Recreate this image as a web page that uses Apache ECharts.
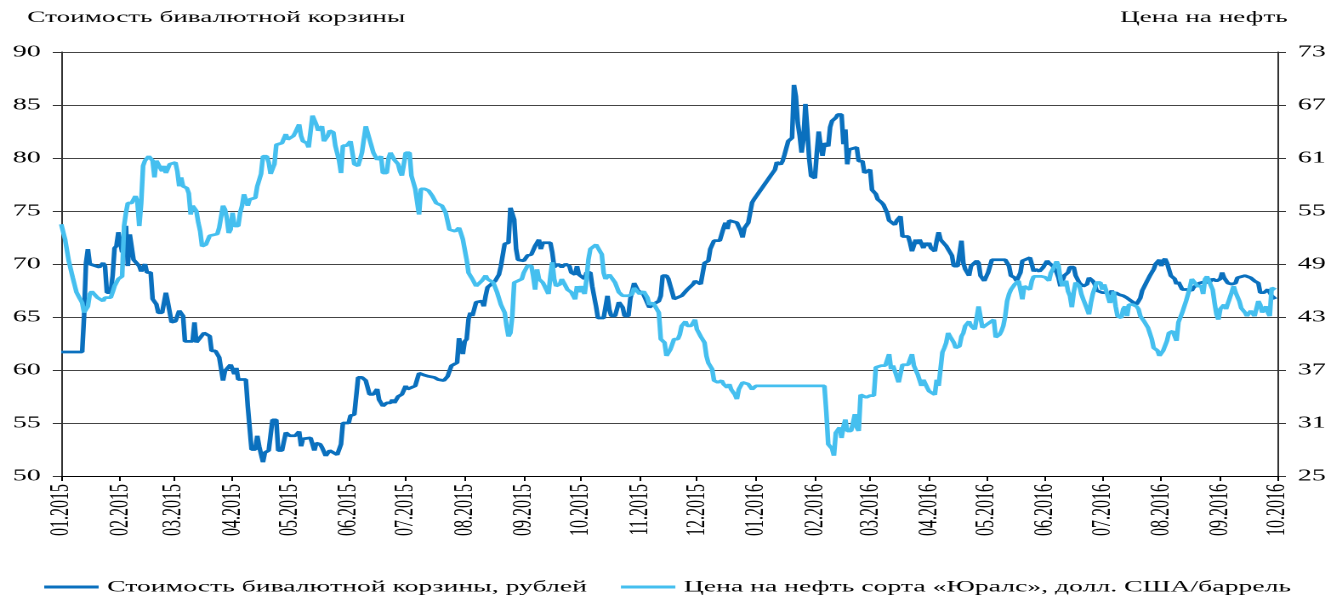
<!doctype html>
<html>
<head>
<meta charset="utf-8">
<title>Стоимость бивалютной корзины и цена на нефть</title>
<style>
    html, body { margin: 0; padding: 0; background: #fff; overflow: hidden; }
    /* the reference picture is stretched horizontally, so is the chart */
    #main { width: 789px; height: 599px; transform: scaleX(1.7009); transform-origin: 0 0; }
</style>
</head>
<body>
<div id="main"></div>
<script src="https://cdn.jsdelivr.net/npm/echarts@6/dist/echarts.min.js"></script>
<script>
var basketName = 'Стоимость бивалютной корзины, рублей';
var oilName = 'Цена на нефть сорта «Юралс», долл. США/баррель';

var basketDates = [
    '2015-01-01','2015-01-12','2015-01-13','2015-01-14','2015-01-15','2015-01-16','2015-01-21','2015-01-23','2015-01-24','2015-01-25',
    '2015-01-27','2015-01-28','2015-01-29','2015-01-30','2015-01-31','2015-02-01','2015-02-02','2015-02-04','2015-02-05','2015-02-06',
    '2015-02-08','2015-02-11','2015-02-12','2015-02-14','2015-02-15','2015-02-17','2015-02-18','2015-02-20','2015-02-21','2015-02-23',
    '2015-02-25','2015-02-26','2015-02-28','2015-03-02','2015-03-04','2015-03-06','2015-03-07','2015-03-11','2015-03-12','2015-03-13',
    '2015-03-17','2015-03-20','2015-03-21','2015-03-23','2015-03-25','2015-03-27','2015-03-28','2015-03-31','2015-04-02','2015-04-03',
    '2015-04-04','2015-04-08','2015-04-09','2015-04-11','2015-04-13','2015-04-14','2015-04-15','2015-04-17','2015-04-18','2015-04-20',
    '2015-04-22','2015-04-24','2015-04-25','2015-04-27','2015-04-29','2015-05-01','2015-05-04','2015-05-06','2015-05-07','2015-05-08',
    '2015-05-12','2015-05-13','2015-05-14','2015-05-15','2015-05-17','2015-05-18','2015-05-20','2015-05-22','2015-05-24','2015-05-26',
    '2015-05-28','2015-05-29','2015-06-01','2015-06-02','2015-06-04','2015-06-06','2015-06-08','2015-06-10','2015-06-12','2015-06-14',
    '2015-06-16','2015-06-17','2015-06-19','2015-06-21','2015-06-23','2015-06-24','2015-06-25','2015-06-27','2015-06-29','2015-07-01',
    '2015-07-02','2015-07-06','2015-07-08','2015-07-11','2015-07-13','2015-07-16','2015-07-18','2015-07-21','2015-07-23','2015-07-25',
    '2015-07-28','2015-07-29','2015-07-30','2015-07-31','2015-08-01','2015-08-02','2015-08-03','2015-08-04','2015-08-05','2015-08-07',
    '2015-08-10','2015-08-11','2015-08-12','2015-08-13','2015-08-15','2015-08-17','2015-08-19','2015-08-20','2015-08-22','2015-08-24',
    '2015-08-25','2015-08-27','2015-08-28','2015-08-29','2015-09-01','2015-09-03','2015-09-05','2015-09-07','2015-09-09','2015-09-10',
    '2015-09-11','2015-09-15','2015-09-16','2015-09-17','2015-09-19','2015-09-21','2015-09-23','2015-09-25','2015-09-26','2015-09-28',
    '2015-09-29','2015-09-30','2015-10-03','2015-10-04','2015-10-06','2015-10-07','2015-10-09','2015-10-10','2015-10-13','2015-10-15',
    '2015-10-16','2015-10-17','2015-10-19','2015-10-21','2015-10-23','2015-10-24','2015-10-26','2015-10-27','2015-10-29','2015-10-31',
    '2015-11-03','2015-11-06','2015-11-08','2015-11-11','2015-11-12','2015-11-13','2015-11-15','2015-11-16','2015-11-19','2015-11-23',
    '2015-11-26','2015-11-29','2015-11-30','2015-12-03','2015-12-05','2015-12-07','2015-12-08','2015-12-10','2015-12-13','2015-12-15',
    '2015-12-16','2015-12-17','2015-12-18','2015-12-22','2015-12-24','2015-12-25','2015-12-26','2015-12-28','2015-12-30','2015-12-31',
    '2016-01-11','2016-01-12','2016-01-14','2016-01-15','2016-01-16','2016-01-18','2016-01-20','2016-01-21','2016-01-22','2016-01-23',
    '2016-01-24','2016-01-25','2016-01-26','2016-01-27','2016-01-28','2016-01-29','2016-01-30','2016-02-01','2016-02-02','2016-02-03',
    '2016-02-04','2016-02-05','2016-02-06','2016-02-08','2016-02-09','2016-02-10','2016-02-12','2016-02-13','2016-02-15','2016-02-16',
    '2016-02-17','2016-02-18','2016-02-19','2016-02-20','2016-02-23','2016-02-24','2016-02-26','2016-02-27','2016-02-28','2016-03-01',
    '2016-03-02','2016-03-04','2016-03-05','2016-03-07','2016-03-08','2016-03-09','2016-03-10','2016-03-11','2016-03-14','2016-03-15',
    '2016-03-17','2016-03-18','2016-03-21','2016-03-22','2016-03-23','2016-03-25','2016-03-26','2016-03-27','2016-03-29','2016-03-30',
    '2016-03-31','2016-04-01','2016-04-02','2016-04-04','2016-04-05','2016-04-06','2016-04-07','2016-04-10','2016-04-11','2016-04-13',
    '2016-04-14','2016-04-16','2016-04-18','2016-04-19','2016-04-20','2016-04-22','2016-04-23','2016-04-26','2016-04-27','2016-04-28',
    '2016-04-29','2016-04-30','2016-05-02','2016-05-04','2016-05-11','2016-05-13','2016-05-14','2016-05-16','2016-05-17','2016-05-19',
    '2016-05-20','2016-05-21','2016-05-24','2016-05-26','2016-05-27','2016-05-29','2016-05-31','2016-06-02','2016-06-03','2016-06-05',
    '2016-06-07','2016-06-08','2016-06-09','2016-06-10','2016-06-11','2016-06-13','2016-06-14','2016-06-16','2016-06-17','2016-06-19',
    '2016-06-21','2016-06-23','2016-06-24','2016-06-26','2016-06-27','2016-06-28','2016-07-01','2016-07-03','2016-07-05','2016-07-06',
    '2016-07-07','2016-07-08','2016-07-10','2016-07-12','2016-07-14','2016-07-15','2016-07-17','2016-07-19','2016-07-21','2016-07-22',
    '2016-07-24','2016-07-26','2016-07-28','2016-07-29','2016-07-31','2016-08-01','2016-08-02','2016-08-03','2016-08-04','2016-08-05',
    '2016-08-06','2016-08-08','2016-08-09','2016-08-10','2016-08-12','2016-08-15','2016-08-17','2016-08-18','2016-08-19','2016-08-21',
    '2016-08-25','2016-08-26','2016-08-28','2016-08-30','2016-09-01','2016-09-02','2016-09-03','2016-09-05','2016-09-07','2016-09-09',
    '2016-09-10','2016-09-14','2016-09-17','2016-09-19','2016-09-21','2016-09-22','2016-09-24','2016-09-26','2016-09-28','2016-09-30'
];
var basketValues = [
    61.7, 61.7, 65.1, 70.1, 71.4, 70.0, 69.7, 70.1, 69.8, 67.3,
    67.3, 68.9, 71.5, 71.7, 73.0, 73.1, 71.1, 73.6, 69.8, 72.8,
    70.4, 69.8, 69.3, 70.0, 69.2, 69.2, 66.7, 66.2, 65.4, 65.4,
    67.3, 66.4, 64.5, 64.6, 65.6, 65.1, 62.7, 62.7, 64.5, 62.6,
    63.5, 63.2, 61.8, 61.8, 61.2, 59.0, 59.9, 60.5, 59.6, 60.2,
    59.1, 59.1, 56.6, 52.5, 52.5, 53.8, 52.8, 51.3, 52.2, 52.4,
    55.3, 55.3, 52.4, 52.4, 54.1, 53.8, 53.8, 54.2, 52.8, 53.5,
    53.6, 53.5, 52.4, 53.1, 53.0, 52.7, 51.9, 52.4, 52.2, 52.0,
    53.0, 55.0, 55.0, 55.7, 55.8, 59.3, 59.3, 59.0, 57.7, 57.7,
    58.2, 57.2, 56.6, 56.9, 56.9, 57.2, 56.9, 57.5, 57.7, 58.5,
    58.2, 58.5, 59.7, 59.5, 59.4, 59.3, 59.1, 59.0, 59.4, 60.4,
    60.7, 63.0, 62.9, 61.5, 62.7, 62.9, 64.8, 65.4, 65.1, 66.4,
    66.5, 66.0, 67.0, 67.8, 68.1, 68.4, 69.0, 69.8, 71.9, 72.0,
    75.3, 74.2, 71.4, 70.4, 70.3, 70.8, 70.9, 71.7, 72.3, 71.4,
    72.0, 72.0, 71.1, 69.7, 70.0, 69.7, 70.0, 69.8, 69.2, 69.0,
    69.8, 69.0, 68.6, 69.2, 69.2, 67.9, 66.0, 64.9, 64.9, 67.0,
    65.7, 65.1, 65.1, 66.4, 65.9, 65.1, 65.1, 66.7, 68.2, 67.5,
    67.1, 65.9, 66.2, 66.5, 67.0, 68.9, 68.9, 68.6, 66.7, 67.0,
    67.6, 68.1, 68.4, 68.1, 70.1, 70.3, 71.4, 72.2, 72.2, 73.4,
    73.9, 73.3, 74.1, 73.9, 73.1, 72.5, 73.4, 73.9, 75.8, 76.1,
    78.9, 79.6, 79.4, 79.7, 80.3, 81.6, 81.9, 86.9, 85.8, 83.3,
    82.1, 80.5, 81.8, 85.1, 82.7, 79.9, 78.3, 78.1, 80.5, 82.5,
    81.1, 80.2, 81.4, 81.1, 82.9, 83.5, 83.8, 84.1, 84.1, 81.3,
    82.7, 79.4, 80.8, 80.9, 81.0, 79.7, 79.7, 78.6, 78.6, 78.9,
    77.0, 76.6, 76.1, 75.8, 75.6, 75.5, 74.8, 74.1, 73.7, 74.1,
    74.5, 72.6, 72.6, 72.0, 71.2, 72.3, 71.9, 72.3, 71.5, 72.0,
    71.7, 72.0, 71.5, 71.2, 72.2, 73.0, 72.3, 71.7, 71.4, 70.8,
    69.8, 69.8, 72.2, 70.1, 69.5, 68.9, 69.8, 70.3, 70.1, 68.9,
    69.0, 68.4, 69.2, 70.4, 70.4, 69.8, 68.9, 68.7, 68.4, 69.2,
    70.3, 70.4, 70.6, 69.3, 69.5, 69.3, 69.7, 70.3, 70.1, 69.8,
    69.2, 68.7, 67.9, 67.8, 68.9, 69.2, 69.7, 69.7, 68.9, 68.2,
    67.9, 68.1, 68.7, 68.4, 68.1, 67.5, 67.3, 67.3, 67.1, 67.5,
    67.0, 67.3, 67.1, 67.0, 66.8, 66.7, 66.4, 66.2, 66.8, 67.5,
    68.2, 68.9, 69.5, 70.0, 70.4, 69.8, 70.3, 70.5, 70.1, 69.5,
    68.9, 68.6, 68.1, 68.3, 67.6, 67.6, 67.5, 67.8, 67.9, 68.2,
    68.4, 68.2, 68.6, 68.4, 68.6, 69.2, 68.7, 68.2, 68.1, 68.2,
    68.7, 68.9, 68.7, 68.4, 68.2, 67.3, 67.3, 67.6, 67.0, 66.7
];

var oilDates = [
    '2015-01-01','2015-01-02','2015-01-03','2015-01-05','2015-01-06','2015-01-07','2015-01-08','2015-01-09','2015-01-10','2015-01-11',
    '2015-01-12','2015-01-13','2015-01-14','2015-01-15','2015-01-16','2015-01-17','2015-01-20','2015-01-23','2015-01-24','2015-01-25',
    '2015-01-27','2015-01-28','2015-01-29','2015-01-31','2015-02-02','2015-02-03','2015-02-04','2015-02-05','2015-02-07','2015-02-09',
    '2015-02-10','2015-02-11','2015-02-12','2015-02-13','2015-02-14','2015-02-16','2015-02-18','2015-02-19','2015-02-20','2015-02-21',
    '2015-02-23','2015-02-24','2015-02-25','2015-02-27','2015-03-02','2015-03-03','2015-03-04','2015-03-05','2015-03-06','2015-03-08',
    '2015-03-09','2015-03-10','2015-03-11','2015-03-13','2015-03-14','2015-03-15','2015-03-16','2015-03-18','2015-03-20','2015-03-24',
    '2015-03-25','2015-03-27','2015-03-28','2015-03-29','2015-03-30','2015-03-31','2015-04-01','2015-04-02','2015-04-04','2015-04-05',
    '2015-04-06','2015-04-07','2015-04-09','2015-04-10','2015-04-13','2015-04-14','2015-04-16','2015-04-17','2015-04-19','2015-04-20',
    '2015-04-21','2015-04-23','2015-04-24','2015-04-27','2015-04-28','2015-04-29','2015-04-30','2015-05-01','2015-05-03','2015-05-04',
    '2015-05-06','2015-05-07','2015-05-08','2015-05-10','2015-05-11','2015-05-13','2015-05-15','2015-05-16','2015-05-18','2015-05-19',
    '2015-05-21','2015-05-22','2015-05-24','2015-05-25','2015-05-27','2015-05-28','2015-05-29','2015-05-31','2015-06-02','2015-06-04',
    '2015-06-06','2015-06-08','2015-06-10','2015-06-12','2015-06-14','2015-06-16','2015-06-18','2015-06-19','2015-06-21','2015-06-22',
    '2015-06-23','2015-06-25','2015-06-27','2015-06-28','2015-06-29','2015-07-01','2015-07-03','2015-07-04','2015-07-06','2015-07-08',
    '2015-07-09','2015-07-11','2015-07-13','2015-07-15','2015-07-17','2015-07-18','2015-07-20','2015-07-22','2015-07-24','2015-07-27',
    '2015-07-29','2015-07-30','2015-07-31','2015-08-02','2015-08-03','2015-08-05','2015-08-07','2015-08-08','2015-08-10','2015-08-12',
    '2015-08-13','2015-08-16','2015-08-18','2015-08-20','2015-08-22','2015-08-23','2015-08-24','2015-08-25','2015-08-26','2015-08-27',
    '2015-08-29','2015-08-31','2015-09-01','2015-09-03','2015-09-05','2015-09-06','2015-09-07','2015-09-08','2015-09-09','2015-09-11',
    '2015-09-12','2015-09-14','2015-09-15','2015-09-16','2015-09-17','2015-09-18','2015-09-20','2015-09-21','2015-09-23','2015-09-24',
    '2015-09-26','2015-09-27','2015-09-28','2015-09-29','2015-09-30','2015-10-01','2015-10-03','2015-10-04','2015-10-05','2015-10-06',
    '2015-10-09','2015-10-10','2015-10-12','2015-10-13','2015-10-14','2015-10-16','2015-10-17','2015-10-19','2015-10-21','2015-10-23',
    '2015-10-26','2015-10-28','2015-10-29','2015-10-30','2015-11-01','2015-11-03','2015-11-05','2015-11-06','2015-11-08','2015-11-09',
    '2015-11-11','2015-11-12','2015-11-14','2015-11-15','2015-11-17','2015-11-19','2015-11-21','2015-11-22','2015-11-23','2015-11-25',
    '2015-11-26','2015-11-28','2015-11-30','2015-12-01','2015-12-03','2015-12-05','2015-12-06','2015-12-07','2015-12-09','2015-12-10',
    '2015-12-12','2015-12-14','2015-12-15','2015-12-17','2015-12-18','2015-12-19','2015-12-21','2015-12-22','2015-12-23','2015-12-25',
    '2015-12-26','2015-12-28','2015-12-30','2015-12-31','2016-01-01','2016-02-06','2016-02-07','2016-02-08','2016-02-10','2016-02-11',
    '2016-02-12','2016-02-13','2016-02-14','2016-02-15','2016-02-16','2016-02-17','2016-02-18','2016-02-20','2016-02-21','2016-02-22',
    '2016-02-23','2016-02-24','2016-02-25','2016-02-26','2016-02-28','2016-03-01','2016-03-03','2016-03-04','2016-03-07','2016-03-09',
    '2016-03-11','2016-03-12','2016-03-13','2016-03-14','2016-03-16','2016-03-18','2016-03-21','2016-03-23','2016-03-24','2016-03-26',
    '2016-03-28','2016-03-29','2016-03-31','2016-04-01','2016-04-04','2016-04-05','2016-04-06','2016-04-08','2016-04-09','2016-04-10',
    '2016-04-11','2016-04-12','2016-04-14','2016-04-15','2016-04-17','2016-04-18','2016-04-19','2016-04-20','2016-04-22','2016-04-23',
    '2016-04-25','2016-04-26','2016-04-27','2016-04-28','2016-04-29','2016-05-03','2016-05-05','2016-05-06','2016-05-08','2016-05-09',
    '2016-05-10','2016-05-11','2016-05-12','2016-05-13','2016-05-14','2016-05-16','2016-05-18','2016-05-19','2016-05-20','2016-05-21',
    '2016-05-24','2016-05-25','2016-05-26','2016-05-30','2016-06-01','2016-06-03','2016-06-04','2016-06-06','2016-06-07','2016-06-08',
    '2016-06-09','2016-06-10','2016-06-12','2016-06-13','2016-06-14','2016-06-15','2016-06-16','2016-06-17','2016-06-19','2016-06-20',
    '2016-06-21','2016-06-23','2016-06-24','2016-06-25','2016-06-26','2016-06-28','2016-06-30','2016-07-01','2016-07-02','2016-07-03',
    '2016-07-05','2016-07-06','2016-07-07','2016-07-08','2016-07-09','2016-07-11','2016-07-12','2016-07-13','2016-07-14','2016-07-15',
    '2016-07-17','2016-07-19','2016-07-20','2016-07-21','2016-07-23','2016-07-25','2016-07-27','2016-07-28','2016-07-30','2016-07-31',
    '2016-08-02','2016-08-04','2016-08-05','2016-08-07','2016-08-09','2016-08-10','2016-08-12','2016-08-14','2016-08-16','2016-08-17',
    '2016-08-18','2016-08-20','2016-08-21','2016-08-22','2016-08-23','2016-08-24','2016-08-25','2016-08-26','2016-08-28','2016-08-29',
    '2016-08-30','2016-08-31','2016-09-01','2016-09-03','2016-09-04','2016-09-05','2016-09-07','2016-09-08','2016-09-09','2016-09-11',
    '2016-09-12','2016-09-14','2016-09-15','2016-09-17','2016-09-18','2016-09-19','2016-09-21','2016-09-22','2016-09-23','2016-09-25',
    '2016-09-26','2016-09-27','2016-09-28','2016-09-29','2016-09-30'
];
var oilValues = [
    53.5, 53.5, 51.8, 49.3, 48.4, 47.5, 47.3, 45.8, 45.4, 45.0,
    44.6, 43.5, 43.3, 44.2, 45.6, 45.9, 45.2, 44.8, 45.2, 45.4,
    45.2, 45.8, 46.5, 47.3, 47.6, 53.3, 54.8, 55.9, 55.9, 56.7,
    56.1, 53.3, 55.9, 60.1, 60.7, 61.2, 60.7, 58.8, 60.7, 60.5,
    59.5, 60.1, 59.3, 60.3, 60.5, 59.5, 57.8, 58.8, 57.8, 57.6,
    57.0, 54.6, 55.6, 55.0, 53.7, 52.7, 51.0, 51.2, 52.2, 52.4,
    53.1, 55.6, 55.2, 54.2, 52.5, 52.9, 54.8, 53.3, 53.3, 54.8,
    55.6, 56.9, 55.6, 56.3, 56.5, 57.8, 59.2, 61.2, 61.2, 60.5,
    59.2, 60.3, 62.5, 62.7, 62.5, 63.7, 63.1, 63.3, 63.5, 63.9,
    64.8, 63.5, 62.9, 62.7, 62.2, 65.8, 64.8, 64.1, 64.6, 62.9,
    63.5, 64.1, 63.9, 62.4, 60.7, 59.3, 62.4, 62.4, 62.9, 60.3,
    60.1, 61.6, 64.6, 63.1, 61.6, 60.8, 61.2, 59.3, 59.3, 61.0,
    61.6, 60.8, 60.3, 59.5, 59.0, 61.6, 61.6, 59.0, 57.5, 54.6,
    57.5, 57.5, 57.3, 56.7, 55.9, 55.8, 55.6, 54.8, 52.9, 52.7,
    53.1, 52.5, 51.8, 49.5, 48.0, 47.3, 46.5, 46.5, 47.1, 47.7,
    47.3, 46.9, 45.8, 44.4, 43.5, 42.0, 40.8, 41.2, 43.1, 46.9,
    47.1, 47.3, 48.0, 48.8, 48.8, 47.6, 46.1, 48.4, 47.3, 46.9,
    46.5, 45.6, 47.6, 49.2, 47.3, 46.5, 46.7, 47.3, 46.5, 46.1,
    45.8, 45.9, 45.0, 46.5, 45.8, 46.5, 45.6, 47.3, 49.5, 50.7,
    51.2, 51.0, 50.1, 48.0, 47.3, 47.8, 48.0, 46.9, 45.8, 45.4,
    45.4, 45.6, 46.3, 46.1, 45.6, 45.9, 45.2, 44.4, 44.6, 44.4,
    43.5, 40.5, 40.1, 38.6, 39.3, 40.5, 40.5, 41.0, 42.0, 42.5,
    42.0, 42.0, 42.7, 41.6, 40.8, 40.1, 38.6, 37.8, 37.1, 35.8,
    35.6, 35.8, 35.4, 35.0, 35.4, 34.8, 34.2, 33.7, 34.8, 35.6,
    35.6, 35.4, 34.8, 35.0, 35.2, 35.2, 32.2, 28.6, 28.1, 27.3,
    29.9, 30.1, 30.5, 29.3, 30.6, 31.4, 30.1, 30.1, 31.0, 32.0,
    30.5, 30.1, 34.2, 34.2, 33.9, 34.1, 34.1, 37.3, 37.5, 37.5,
    38.8, 37.1, 37.5, 36.9, 35.6, 37.6, 37.6, 38.8, 37.5, 36.5,
    35.2, 35.9, 35.0, 34.6, 34.2, 35.9, 35.2, 39.0, 39.5, 40.1,
    41.2, 40.8, 40.1, 39.5, 39.7, 40.8, 41.2, 42.0, 42.5, 42.0,
    41.6, 42.9, 44.2, 44.2, 41.8, 42.4, 42.7, 40.7, 41.0, 41.4,
    42.0, 43.1, 44.8, 45.6, 46.1, 46.7, 47.1, 46.1, 45.0, 46.5,
    46.1, 47.1, 47.6, 47.6, 47.5, 47.1, 48.0, 48.8, 49.3, 48.8,
    47.3, 46.5, 47.1, 45.9, 45.4, 44.1, 45.8, 46.9, 46.5, 45.6,
    45.0, 43.9, 43.3, 44.6, 45.6, 46.9, 46.9, 46.1, 46.7, 46.9,
    44.6, 45.0, 45.9, 44.2, 43.1, 42.9, 43.9, 44.2, 43.1, 44.4,
    44.4, 44.2, 43.9, 43.1, 42.5, 41.8, 40.5, 39.5, 39.2, 38.6,
    39.2, 40.3, 41.2, 41.4, 40.3, 42.4, 43.5, 44.8, 46.3, 47.3,
    47.5, 46.5, 46.7, 46.5, 45.6, 47.3, 47.6, 47.6, 46.1, 44.6,
    43.3, 42.7, 43.9, 44.4, 43.9, 44.0, 45.8, 46.5, 45.8, 44.8,
    44.0, 43.5, 43.1, 43.7, 43.5, 43.1, 44.8, 44.4, 43.5, 44.2,
    43.5, 43.1, 46.3, 46.3, 46.1
];

var basketColor = '#0A70BE';
var oilColor = '#45BFEF';
var serif = '"Liberation Serif", "DejaVu Serif", serif';

function pairs(dates, values) {
    return dates.map(function (d, i) { return [d, values[i]]; });
}

function monthLabel(value) {
    var d = new Date(value);
    var m = d.getMonth() + 1;
    return (m < 10 ? '0' + m : m) + '.' + d.getFullYear();
}

var chart = echarts.init(document.getElementById('main'), null, { devicePixelRatio: 2 });
var day = 24 * 3600 * 1000;

chart.setOption({
    animation: false,
    title: [{
        text: 'Стоимость бивалютной корзины',
        left: 16, top: 10, padding: 0,
        textStyle: { fontFamily: serif, fontSize: 16, fontWeight: 'normal', color: '#000' }
    }, {
        text: 'Цена на нефть',
        right: 32, top: 10, padding: 0,
        textStyle: { fontFamily: serif, fontSize: 16, fontWeight: 'normal', color: '#000' }
    }],
    legend: {
        left: 26, top: 579, padding: 0,
        itemGap: 20, itemWidth: 32, itemHeight: 3,
        icon: 'rect',
        textStyle: { fontFamily: serif, fontSize: 16.3, color: '#000' },
        data: [basketName, oilName]
    },
    grid: { left: 36, right: 38, top: 52, bottom: 123 },
    xAxis: {
        type: 'time',
        min: '2015-01-01',
        max: '2016-10-01',
        minInterval: 28 * day,
        maxInterval: 31 * day,
        splitLine: { show: false },
        axisLine: { lineStyle: { color: '#000', width: 1 } },
        axisTick: { length: 5, lineStyle: { color: '#000' } },
        axisLabel: {
            rotate: 90, margin: 8,
            fontFamily: serif, fontSize: 16, color: '#000',
            showMinLabel: true, showMaxLabel: true,
            hideOverlap: false,
            formatter: monthLabel
        }
    },
    yAxis: [{
        type: 'value',
        min: 50, max: 90, interval: 5,
        position: 'left',
        axisLine: { show: true, lineStyle: { color: '#333', width: 1 } },
        axisTick: { show: true, length: 5, lineStyle: { color: '#333' } },
        axisLabel: { margin: 12, fontFamily: serif, fontSize: 16.5, color: '#000' },
        splitLine: { show: true, lineStyle: { color: '#444', width: 1 } }
    }, {
        type: 'value',
        min: 25, max: 73, interval: 6,
        position: 'right',
        axisLine: { show: true, lineStyle: { color: '#333', width: 1 } },
        axisTick: { show: true, length: 5, lineStyle: { color: '#333' } },
        axisLabel: { margin: 12, fontFamily: serif, fontSize: 16.5, color: '#000' },
        splitLine: { show: false }
    }],
    series: [{
        name: basketName,
        type: 'line',
        yAxisIndex: 0,
        symbol: 'none',
        color: basketColor,
        lineStyle: { color: basketColor, width: 2.75 },
        data: pairs(basketDates, basketValues)
    }, {
        name: oilName,
        type: 'line',
        yAxisIndex: 1,
        symbol: 'none',
        color: oilColor,
        lineStyle: { color: oilColor, width: 2.75 },
        data: pairs(oilDates, oilValues)
    }]
});

window.onresize = chart.resize;
</script>
</body>
</html>
